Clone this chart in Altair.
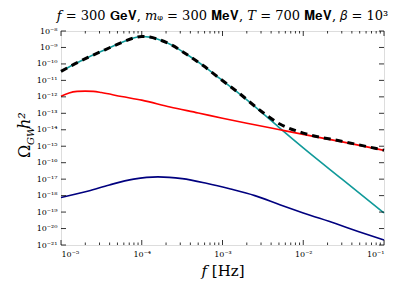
import altair as alt
import pandas as pd

# ---- data (log10 of frequency [Hz], log10 of Omega h^2) ----
teal_lx = [-5.0, -4.83, -4.66, -4.455, -4.25, -4.1, -4.0, -3.9, -3.8, -3.63, -3.45, -3.24, -3.03, -2.82, -2.5, -2.29, -2.0, -1.52, -1.0]
teal_ly = [-10.45, -10.0, -9.59, -9.14, -8.70, -8.42, -8.33, -8.37, -8.5, -8.85, -9.4, -10.1, -10.9, -11.7, -13.0, -13.9, -15.1, -17.0, -19.05]

red_lx = [-5.0, -4.9, -4.8, -4.7, -4.6, -4.5, -4.25, -4.0, -3.65, -3.3, -3.0, -2.65, -2.29, -2.0, -1.5, -1.0]
red_ly = [-11.96, -11.76, -11.67, -11.65, -11.67, -11.74, -11.98, -12.2, -12.62, -12.98, -13.3, -13.65, -14.0, -14.28, -14.75, -15.25]

navy_lx = [-5.0, -4.66, -4.4, -4.1, -3.8, -3.5, -3.2, -2.9, -2.6, -2.29, -2.0, -1.6, -1.32, -1.0]
navy_ly = [-18.12, -17.72, -17.35, -17.0, -16.86, -16.97, -17.25, -17.6, -18.0, -18.55, -19.05, -19.7, -20.18, -20.7]

total_lx = [-5.0, -4.83, -4.66, -4.455, -4.25, -4.1, -4.0, -3.9, -3.8, -3.63, -3.45, -3.24, -3.03, -2.82, -2.5, -2.29, -2.0, -1.5, -1.0]
total_ly = [-10.45, -10.0, -9.59, -9.14, -8.70, -8.42, -8.33, -8.37, -8.5, -8.85, -9.4, -10.1, -10.9, -11.68, -12.95, -13.65, -14.2, -14.72, -15.24]

x_major = [-5, -4, -3, -2, -1]
y_major = list(range(-21, -7))

series_names = ["sw", "turb", "coll"]
series_colors = ["#109a9a", "#ff0000", "#00007f"]

title_text = "𝑓 = 300 𝐆𝐞𝐕, 𝑚ᵩ = 300 𝐌𝐞𝐕, 𝑇 = 700 𝐌𝐞𝐕, 𝛽 = 10³"
x_title = "𝑓 [Hz]"

W, H = 323, 214
SERIF = "DejaVu Serif"

rows = []
for name, lx, ly in [("sw", teal_lx, teal_ly), ("turb", red_lx, red_ly), ("coll", navy_lx, navy_ly)]:
    for a, b in zip(lx, ly):
        rows.append({"series": name, "f": 10 ** a, "omega": 10 ** b})
lines_df = pd.DataFrame(rows)
total_df = pd.DataFrame({"f": [10 ** a for a in total_lx], "omega": [10 ** b for b in total_ly]})

sup = str.maketrans("-0123456789", "⁻⁰¹²³⁴⁵⁶⁷⁸⁹")
def label_expr(exps):
    expr = "''"
    for e in exps:
        expr = f"round(log(datum.value)/LN10) == {e} ? '10{str(e).translate(sup)}' : " + expr
    return expr

xscale = alt.Scale(type="log", domain=[1e-5, 1e-1], nice=False)
yscale = alt.Scale(type="log", domain=[1e-21, 1e-8], nice=False)

xaxis = alt.Axis(values=[10.0 ** e for e in x_major], labelExpr=label_expr(x_major), ticks=False,
                 domain=False, grid=False, labelFont=SERIF, labelFontSize=8, labelPadding=5,
                 labelColor="black", title=x_title, titleFont=SERIF, titleFontSize=15,
                 titleFontWeight="normal", titlePadding=5, titleColor="black")
yaxis = alt.Axis(values=[10.0 ** e for e in y_major], labelExpr=label_expr(y_major), ticks=False,
                 domain=False, grid=False, labelFont=SERIF, labelFontSize=8, labelPadding=4,
                 labelColor="black", title=None)

X = alt.X("f:Q", scale=xscale, axis=xaxis)
Y = alt.Y("omega:Q", scale=yscale, axis=yaxis)

lines = alt.Chart(lines_df).mark_line(strokeWidth=1.6, interpolate="monotone").encode(
    x=X, y=Y,
    color=alt.Color("series:N", scale=alt.Scale(domain=series_names, range=series_colors), legend=None),
    detail="series:N",
)

total = alt.Chart(total_df).mark_line(strokeWidth=3, strokeDash=[7, 5], color="black",
                                      interpolate="monotone").encode(x=X, y=Y)

# inward tick marks on all four sides
xminor = []
for d in [-5, -4, -3, -2]:
    for m in range(2, 10):
        xminor.append(m * 10.0 ** d)
xmaj_df = pd.DataFrame({"f": [10.0 ** e for e in x_major]})
xmin_df = pd.DataFrame({"f": xminor})
ymaj_df = pd.DataFrame({"omega": [10.0 ** e for e in y_major]})

def xticks(df, length):
    b = alt.Chart(df).mark_rule(color="black", strokeWidth=0.8).encode(
        x=X, y=alt.value(H), y2=alt.value(H - length))
    t = alt.Chart(df).mark_rule(color="black", strokeWidth=0.8).encode(
        x=X, y=alt.value(0), y2=alt.value(length))
    return [b, t]

yl = alt.Chart(ymaj_df).mark_rule(color="black", strokeWidth=0.8).encode(
    y=Y, x=alt.value(0), x2=alt.value(5))
yr = alt.Chart(ymaj_df).mark_rule(color="black", strokeWidth=0.8).encode(
    y=Y, x=alt.value(W - 5), x2=alt.value(W))

# y-axis title  Omega_GW h^2, composed of pieces (rotated)
one = pd.DataFrame({"k": [0]})
def ytext(txt, xpos, ypos, size, style):
    return alt.Chart(one).mark_text(angle=270, align="left", baseline="alphabetic", font=SERIF,
                                    fontSize=size, fontStyle=style, color="black").encode(
        x=alt.value(xpos), y=alt.value(ypos), text=alt.value(txt))

ytitle = [
    ytext("Ω", -31, 127, 16, "normal"),
    ytext("GW", -27, 114, 10, "italic"),
    ytext("h²", -31, 98, 16, "italic"),
]

chart = alt.layer(lines, total, *xticks(xmaj_df, 5), *xticks(xmin_df, 2.5), yl, yr, *ytitle).properties(
    width=W, height=H,
    title=alt.TitleParams(title_text, font=SERIF,
                          fontSize=13, fontWeight="normal", anchor="middle", offset=4, color="black"),
    autosize=alt.AutoSizeParams(type="none"),
    padding={"left": 53, "top": 23, "right": 15, "bottom": 48},
).configure_view(stroke="black", strokeWidth=1.2).configure(background="white")

chart.save("out.html", embed_options={"renderer": "svg", "actions": False})
